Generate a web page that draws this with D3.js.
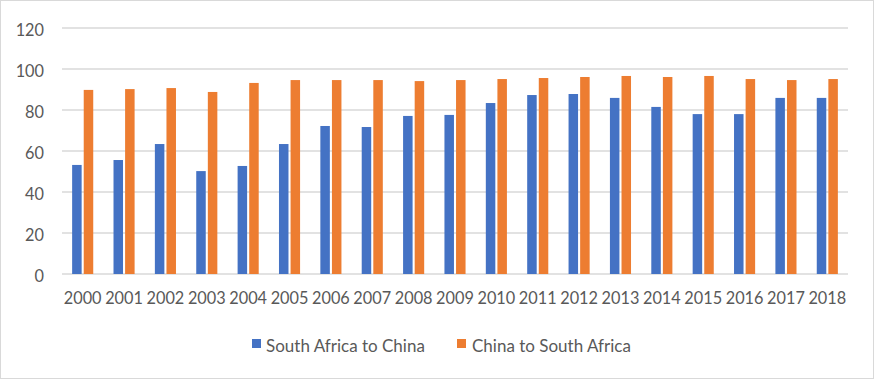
<!DOCTYPE html>
<html>
<head>
<meta charset="utf-8">
<script src="https://cdn.jsdelivr.net/npm/d3@7"></script>
<style>
  html, body { margin: 0; padding: 0; background: #fff; }
  svg text { font-family: Lato, "Open Sans", sans-serif; fill: #595959; }
</style>
</head>
<body>
<svg id="chart" width="876" height="381"></svg>
<script>
const years = ["2000","2001","2002","2003","2004","2005","2006","2007","2008","2009","2010","2011","2012","2013","2014","2015","2016","2017","2018"];
const seriesNames = ["South Africa to China", "China to South Africa"];
const southAfricaToChina = [53.2, 55.6, 63.4, 50.2, 52.7, 63.4, 72.2, 71.7, 77.1, 77.6, 83.4, 87.3, 87.8, 85.9, 81.5, 78.0, 78.0, 85.9, 85.9];
const chinaToSouthAfrica = [89.8, 90.2, 90.7, 88.8, 93.2, 94.6, 94.6, 94.6, 94.1, 94.6, 95.1, 95.6, 96.1, 96.6, 96.1, 96.6, 95.1, 94.6, 95.1];
const yTicks = [0, 20, 40, 60, 80, 100, 120];
const colors = ["#4472C4", "#ED7D31"];

const svg = d3.select("#chart");
const W = 876, H = 381;
const plot = { left: 62, right: 848, top: 28, bottom: 274 };
const FS = 16.3;
const LFS = 17;

svg.append("rect").attr("x", 0.5).attr("y", 0.5).attr("width", W - 3).attr("height", H - 3)
  .attr("fill", "#fff").attr("stroke", "#D9D9D9").attr("stroke-width", 1);

const y = d3.scaleLinear().domain([0, 120]).range([plot.bottom, plot.top]);
const x0 = d3.scaleBand().domain(years).range([plot.left, plot.right]).paddingInner(0.49).paddingOuter(0.245);
const x1 = d3.scaleBand().domain(seriesNames).range([0, x0.bandwidth()]).paddingInner(0.18).paddingOuter(0);

// gridlines
svg.append("g").selectAll("line").data(yTicks).join("line")
  .attr("x1", plot.left).attr("x2", plot.right)
  .attr("y1", d => y(d)).attr("y2", d => y(d))
  .attr("stroke", "#D9D9D9").attr("stroke-width", 1.3);

// y axis labels
const yAxis = d3.axisLeft(y).tickValues(yTicks).tickSize(0).tickPadding(0);
const gy = svg.append("g").attr("transform", `translate(${plot.left - 18},2)`).call(yAxis);
gy.select(".domain").remove();
gy.selectAll("text").attr("font-size", FS).attr("font-family", "Lato, 'Open Sans', sans-serif").attr("fill", "#595959");

// bars
const data = years.map((yr, i) => ({ year: yr, values: [southAfricaToChina[i], chinaToSouthAfrica[i]] }));
const groups = svg.append("g").selectAll("g").data(data).join("g")
  .attr("transform", d => `translate(${x0(d.year)},0)`);
groups.selectAll("rect").data(d => d.values.map((v, k) => ({ key: seriesNames[k], value: v, k })))
  .join("rect")
  .attr("x", d => x1(d.key))
  .attr("width", x1.bandwidth())
  .attr("y", d => y(d.value))
  .attr("height", d => y(0) - y(d.value))
  .attr("fill", d => colors[d.k]);

// x axis labels
const xAxis = d3.axisBottom(x0).tickSize(0).tickPadding(0);
const gx = svg.append("g").attr("transform", `translate(0,${plot.bottom + 18})`).call(xAxis);
gx.select(".domain").remove();
gx.selectAll("text").attr("font-size", FS).attr("font-family", "Lato, 'Open Sans', sans-serif").attr("fill", "#595959");

// legend
const legendPos = [{ sx: 252, tx: 266 }, { sx: 457, tx: 472 }];
const lg = svg.append("g");
seriesNames.forEach((name, k) => {
  lg.append("rect").attr("x", legendPos[k].sx).attr("y", 339).attr("width", 9).attr("height", 9).attr("fill", colors[k]);
  lg.append("text").attr("x", legendPos[k].tx).attr("y", 351.5).attr("font-size", LFS).text(name);
});
</script>
</body>
</html>
